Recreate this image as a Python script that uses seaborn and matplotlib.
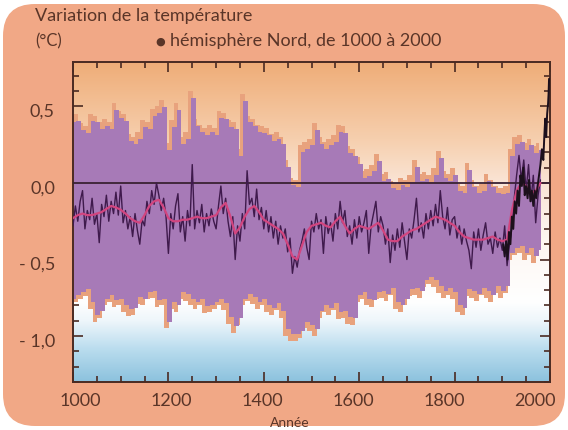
import numpy as np
import matplotlib
matplotlib.use("Agg")
import matplotlib.pyplot as plt
import seaborn as sns
from matplotlib.colors import LinearSegmentedColormap
from matplotlib.patches import FancyBboxPatch
from matplotlib.ticker import MultipleLocator
from matplotlib.transforms import ScaledTranslation

# ---------------- data ----------------
band_years = list(range(1000, 1990, 10))
band_upper = [
    0.44, 0.45, 0.39, 0.37, 0.45, 0.44, 0.40, 0.42, 0.40, 0.52,
    0.47, 0.45, 0.32, 0.30, 0.33, 0.41, 0.40, 0.48, 0.50, 0.54,
    0.26, 0.41, 0.52, 0.30, 0.33, 0.60, 0.42, 0.38, 0.36, 0.38,
    0.36, 0.47, 0.46, 0.41, 0.40, 0.22, 0.58, 0.44, 0.42, 0.38,
    0.37, 0.36, 0.32, 0.33, 0.30, 0.15, 0.03, 0.02, 0.25, 0.27,
    0.29, 0.39, 0.30, 0.27, 0.29, 0.31, 0.38, 0.37, 0.24, 0.22,
    0.17, 0.08, 0.09, 0.12, 0.19, 0.06, 0.07, 0.01, 0.00, 0.03,
    0.02, 0.05, 0.15, 0.06, 0.07, 0.05, 0.10, 0.21, 0.08, 0.06,
    0.10, -0.01, -0.02, 0.13, 0.02, -0.02, -0.01, 0.06, 0.02, -0.02,
    -0.03, -0.02, 0.22, 0.30, 0.31, 0.26, 0.29, 0.24, 0.26,
]
band_lower = [
    -0.80, -0.78, -0.76, -0.74, -0.82, -0.91, -0.88, -0.80, -0.78, -0.81,
    -0.80, -0.84, -0.87, -0.86, -0.79, -0.80, -0.76, -0.75, -0.81, -0.80,
    -0.95, -0.82, -0.84, -0.76, -0.77, -0.80, -0.82, -0.80, -0.85, -0.84,
    -0.82, -0.80, -0.83, -0.92, -0.98, -0.93, -0.80, -0.77, -0.79, -0.82,
    -0.80, -0.84, -0.86, -0.83, -0.88, -1.00, -1.03, -1.03, -1.01, -0.95,
    -0.97, -1.00, -0.88, -0.84, -0.86, -0.83, -0.89, -0.88, -0.92, -0.93,
    -0.78, -0.76, -0.80, -0.81, -0.76, -0.75, -0.77, -0.73, -0.82, -0.84,
    -0.80, -0.74, -0.73, -0.75, -0.68, -0.66, -0.68, -0.72, -0.75, -0.73,
    -0.76, -0.84, -0.86, -0.74, -0.75, -0.77, -0.73, -0.75, -0.78, -0.72,
    -0.75, -0.72, -0.50, -0.47, -0.46, -0.50, -0.47, -0.52, -0.48,
]
smooth_years = list(range(1000, 1990, 10))
smooth_vals = [
    -0.23, -0.21, -0.20, -0.21, -0.21, -0.20, -0.19, -0.17, -0.15, -0.16,
    -0.175, -0.20, -0.23, -0.25, -0.26, -0.21, -0.15, -0.12, -0.11, -0.16,
    -0.23, -0.25, -0.25, -0.24, -0.24, -0.23, -0.22, -0.23, -0.23, -0.22,
    -0.21, -0.16, -0.13, -0.22, -0.33, -0.29, -0.22, -0.17, -0.15, -0.19,
    -0.24, -0.26, -0.28, -0.30, -0.33, -0.40, -0.48, -0.50, -0.41, -0.32,
    -0.28, -0.27, -0.26, -0.28, -0.29, -0.25, -0.22, -0.28, -0.33, -0.30,
    -0.28, -0.29, -0.30, -0.28, -0.26, -0.31, -0.37, -0.38, -0.38, -0.35,
    -0.33, -0.31, -0.30, -0.28, -0.26, -0.24, -0.22, -0.23, -0.24, -0.26,
    -0.28, -0.32, -0.35, -0.36, -0.37, -0.37, -0.37, -0.36, -0.35, -0.37,
    -0.38, -0.37, -0.18, -0.05, 0.00, -0.02, -0.07, -0.05, 0.00,
]
annual_years = list(range(1000, 1985, 5))
annual_vals = [
    -0.28, -0.15, -0.25, -0.12, -0.05, -0.30, -0.18, -0.24, -0.10, -0.27,
    -0.20, -0.39, -0.14, -0.22, -0.08, -0.25, -0.12, -0.20, -0.06, -0.21,
    -0.02, -0.26, -0.18, -0.30, -0.22, -0.35, -0.20, -0.31, -0.40, -0.24,
    -0.28, -0.12, -0.20, -0.05, -0.14, 0.00, -0.08, -0.18, -0.10, -0.22,
    -0.46, -0.20, -0.30, -0.15, -0.07, -0.32, -0.22, -0.38, -0.18, -0.28,
    0.12, -0.30, -0.18, -0.26, -0.14, -0.32, -0.20, -0.28, -0.17, -0.25,
    -0.30, -0.15, -0.02, -0.20, -0.10, -0.25, -0.35, -0.22, -0.50, -0.28,
    -0.38, -0.20, -0.30, 0.08, -0.14, -0.10, -0.22, -0.04, -0.24, -0.16,
    -0.30, -0.18, -0.32, -0.22, -0.36, -0.25, -0.40, -0.28, -0.36, -0.30,
    -0.45, -0.36, -0.59, -0.48, -0.55, -0.44, -0.38, -0.30, -0.42, -0.50,
    -0.25, -0.32, -0.20, -0.30, -0.24, -0.46, -0.22, -0.33, -0.26, -0.38,
    -0.20, -0.30, -0.12, -0.26, -0.18, -0.35, -0.28, -0.40, -0.24, -0.36,
    -0.22, -0.32, -0.26, -0.18, -0.46, -0.28, -0.20, -0.12, -0.32, -0.22,
    -0.28, -0.40, -0.30, -0.52, -0.34, -0.44, -0.30, -0.42, -0.26, -0.38,
    -0.50, -0.30, -0.36, -0.24, -0.10, -0.32, -0.26, -0.36, -0.20, -0.30,
    -0.18, -0.28, -0.14, -0.26, -0.05, -0.22, -0.30, -0.16, -0.34, -0.24,
    -0.22, -0.36, -0.28, -0.40, -0.30, -0.38, -0.44, -0.56, -0.32, -0.42,
    -0.30, -0.44, -0.34, -0.26, -0.40, -0.36, -0.46, -0.32, -0.42, -0.36,
    -0.44, -0.28, -0.54, -0.40, -0.30, -0.10, 0.05, 0.18, 0.02, 0.15,
    -0.05, 0.12, -0.12, 0.05, -0.26, -0.08, 0.02,
]
instr_years = [1902, 1905, 1908, 1911, 1914, 1917, 1920, 1923, 1926, 1929,
               1932, 1935, 1938, 1941, 1944, 1947, 1950, 1953, 1956, 1959,
               1962, 1965, 1968, 1971, 1974, 1977, 1980, 1983, 1986, 1988,
               1990, 1992, 1994, 1996, 1997, 1998]
instr_vals = [-0.40, -0.48, -0.38, -0.50, -0.32, -0.40, -0.22, -0.30, -0.12, -0.20,
              -0.05, -0.15, 0.05, -0.02, 0.10, -0.08, -0.02, -0.10, 0.02, -0.12,
              -0.05, -0.15, -0.05, -0.10, -0.02, 0.05, 0.12, 0.22, 0.15, 0.30,
              0.42, 0.30, 0.45, 0.52, 0.58, 0.68]
x_ticks = [1000, 1200, 1400, 1600, 1800, 2000]
x_tick_labels = ["1000", "1200", "1400", "1600", "1800", "2000"]
y_ticks = [-1.0, -0.5, 0.0, 0.5]
y_tick_labels = ["- 1,0", "- 0,5", "0,0", "0,5"]

assert len(band_upper) == len(band_years) == len(band_lower) == len(smooth_vals)
assert len(annual_vals) == len(annual_years)
assert len(instr_vals) == len(instr_years)

# ---------------- style ----------------
sns.set_theme(style="ticks")
plt.rcParams["font.family"] = ["Lato", "DejaVu Sans"]

TXT = "#5a3528"
SPINE = "#4a2a22"
SALMON = "#f1a886"
ORANGE = "#e8a27d"
PURPLE = "#a77ab7"
DARK = "#3f1a4c"
PINK = "#d2457f"
BLACK = "#1c101c"

fig = plt.figure(figsize=(5.68, 4.30), dpi=100)
fig.patch.set_facecolor("white")
fig.patches.append(FancyBboxPatch((0.03, 0.04), 5.62, 4.22,
                                  boxstyle="round,pad=0,rounding_size=0.32",
                                  transform=fig.dpi_scale_trans,
                                  fc=SALMON, ec="none", zorder=-10))

ax = fig.add_axes([73 / 568, 48 / 430, 477 / 568, 320 / 430])
YMIN, YMAX = -1.30, 0.79

# background gradient (blue bottom -> white -> peach/orange top)
cmap = LinearSegmentedColormap.from_list("bg", [
    (0.00, "#8cc2de"), (0.10, "#b9dcee"), (0.19, "#eef6fb"), (0.25, "#ffffff"),
    (0.45, "#fdf6f1"), (0.62, "#fae5d6"), (0.76, "#f6cfae"), (1.00, "#efad78")])
grad = np.linspace(0, 1, 256).reshape(-1, 1)
ax.imshow(grad, extent=[1000, 2000, YMIN, YMAX], aspect="auto", origin="lower",
          cmap=cmap, zorder=0, interpolation="bilinear")

by = np.array(band_years, dtype=float)
bu = np.array(band_upper)
bl = np.array(band_lower)
ax.fill_between(by - 4, bu, bl, step="mid", color=ORANGE, lw=0, zorder=1)
ax.fill_between(by + 2, bu - 0.045, bl + 0.045, step="mid", color=PURPLE, lw=0, zorder=2)

ax.axhline(0, color="#3a2233", lw=1.3, zorder=3)

sns.lineplot(x=annual_years, y=annual_vals, ax=ax, color=DARK, lw=1.0, zorder=4)
sns.lineplot(x=smooth_years, y=smooth_vals, ax=ax, color=PINK, lw=1.6, zorder=5)
sns.lineplot(x=instr_years, y=instr_vals, ax=ax, color=BLACK, lw=1.4, zorder=6)

ax.set_xlim(1000, 2000)
ax.set_ylim(YMIN, YMAX)
ax.set_xticks(x_ticks)
ax.set_xticklabels(x_tick_labels)
ax.set_yticks(y_ticks)
ax.set_yticklabels(y_tick_labels)
ax.xaxis.set_minor_locator(MultipleLocator(50))
ax.yaxis.set_minor_locator(MultipleLocator(0.1))
ax.tick_params(which="both", direction="in", top=True, right=True,
               color=SPINE, width=1.2)
ax.tick_params(which="major", length=7)
ax.tick_params(which="minor", length=4)
ax.tick_params(axis="x", which="major", labelsize=13, labelcolor=TXT, pad=8)
ax.tick_params(axis="y", which="major", labelsize=13, labelcolor=TXT, pad=13)
for lab in ax.get_yticklabels():
    lab.set_transform(lab.get_transform() + ScaledTranslation(0, -4 / 100, fig.dpi_scale_trans))
# the printed year labels sit on a slightly tighter spacing than the ticks
for k, lab in enumerate(ax.get_xticklabels()):
    dx = (7 - 4.4 * k) / 100
    lab.set_transform(lab.get_transform() + ScaledTranslation(dx, 0, fig.dpi_scale_trans))
for sp in ax.spines.values():
    sp.set_color(SPINE)
    sp.set_linewidth(1.4)
ax.set_xlabel("Année", fontsize=10, color=TXT)
ax.xaxis.set_label_coords((290 - 73) / 477, -(417 - 382) / 320)
ax.set_ylabel("")

fig.text(35 / 568, 1 - 21 / 430, "Variation de la température", fontsize=13,
         color=TXT, ha="left", va="baseline")
fig.text(35 / 568, 1 - 46 / 430, "(°C)", fontsize=12, color=TXT, ha="left", va="baseline")
fig.text(160 / 568, 1 - 42 / 430, "●", fontsize=8, color=TXT, ha="center", va="center",
         family=["DejaVu Sans"])
fig.text(170 / 568, 1 - 46 / 430, "hémisphère Nord, de 1000 à 2000", fontsize=13,
         color=TXT, ha="left", va="baseline")

fig.savefig("out.png", dpi=100)
